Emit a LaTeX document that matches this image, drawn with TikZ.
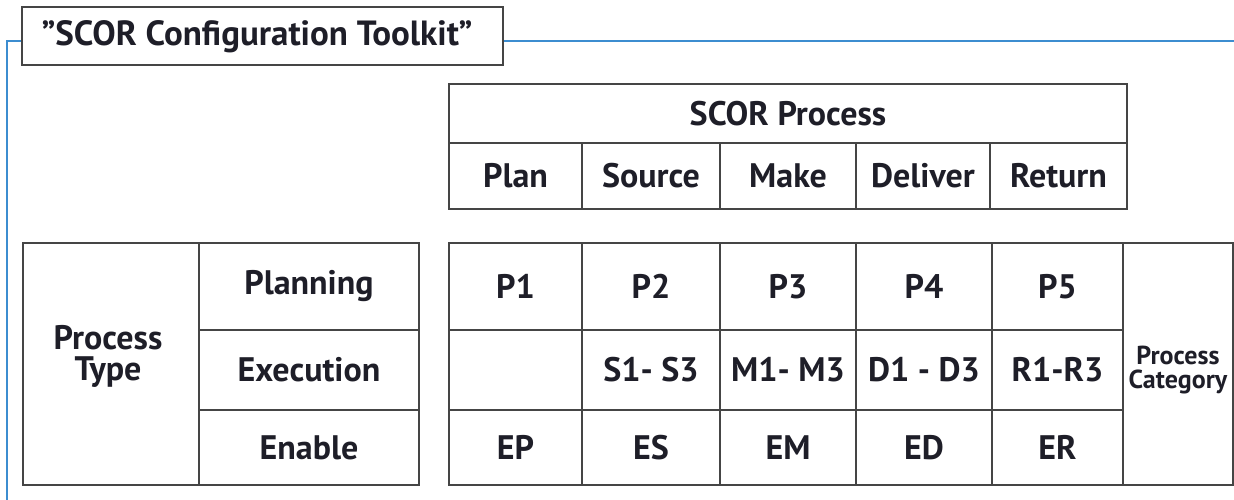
\documentclass[tikz,border=0pt]{standalone}
\usepackage{fontspec}
\setmainfont{PT Sans}
\definecolor{linegray}{HTML}{454545}
\definecolor{frameblue}{HTML}{3C8DD0}
\definecolor{txt}{HTML}{1E1E28}
\begin{document}
\begin{tikzpicture}[x=1pt,y=-1pt,
  cell/.style={draw=linegray, line width=1.8pt, inner sep=0pt, text=txt,
    font=\fontsize{34}{31}\selectfont\bfseries, align=center},
  small/.style={font=\fontsize{26}{24}\selectfont\bfseries},
  frame/.style={draw=frameblue, line width=1.8pt}]
\useasboundingbox (0,0) rectangle (1234,500);
% title
\node[cell, minimum width=481pt, minimum height=58pt] (title) at (262.5,36) {};
\node[text=txt, font=\fontsize{35}{36}\selectfont\bfseries] (titletext) at (257,37) {"SCOR Configuration Toolkit”};
\coordinate (bl) at (7,500);
\coordinate (br) at (1234,41);
\draw[frame] (bl) -- (7,41) -- (title.west |- br);
\draw[frame] (title.east |- br) -- (br);
% top table
\node[cell, minimum width=678pt, minimum height=59pt] (proc) at (788,113.5) {SCOR Process};
\node[cell, minimum width=133pt, minimum height=66pt] (plan) at (515.5,176) {Plan};
\node[cell, minimum width=138pt, minimum height=66pt] (source) at (651,176) {Source};
\node[cell, minimum width=136pt, minimum height=66pt] (make) at (788,176) {Make};
\node[cell, minimum width=134pt, minimum height=66pt] (deliver) at (923,176) {Deliver};
\node[cell, minimum width=137pt, minimum height=66pt] (return) at (1058.5,176) {Return};
% left table
\node[cell, minimum width=176pt, minimum height=242pt] (ptype) at (111,364) {};
\node[text=txt, font=\fontsize{34}{31}\selectfont\bfseries, align=center, inner sep=0pt] (ptypetext) at (108,356) {Process\\Type};
\node[cell, minimum width=220pt, minimum height=87pt] (planning) at (309,286.5) {Planning};
\node[cell, minimum width=220pt, minimum height=80pt] (execution) at (309,370) {Execution};
\node[cell, minimum width=220pt, minimum height=75pt] (enable) at (309,447.5) {Enable};
% main table
\foreach \n/\cx/\w/\a/\b/\c in {1/515.5/133/P1//EP, 2/651/138/P2/S1- S3/ES, 3/788/136/P3/M1- M3/EM, 4/924/136/P4/D1 - D3/ED, 5/1057.5/131/P5/R1-R3/ER}{
  \node[cell, minimum width=\w pt, minimum height=87pt] (r1c\n) at (\cx,286.5) {\a};
  \node[cell, minimum width=\w pt, minimum height=80pt] (r2c\n) at (\cx,370) {\b};
  \node[cell, minimum width=\w pt, minimum height=75pt] (r3c\n) at (\cx,447.5) {\c};
}
\node[cell, minimum width=110pt, minimum height=242pt] (pcat) at (1178,364) {};
\node[text=txt, small, align=center, inner sep=0pt] (pcattext) at (1178,370) {Process\\Category};
\end{tikzpicture}
\end{document}
